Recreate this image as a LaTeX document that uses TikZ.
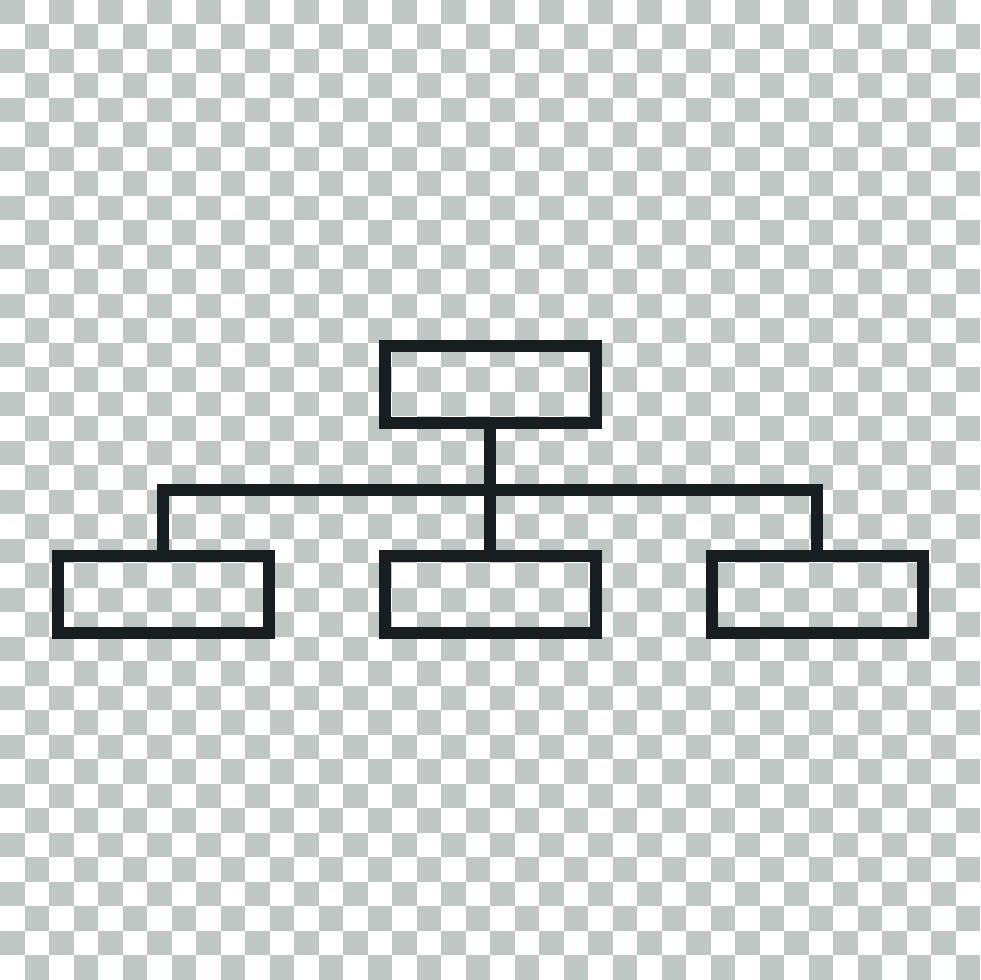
\documentclass[tikz,border=0pt]{standalone}
\usepackage{tikz}
\usepackage{xcolor}
\definecolor{checkgray}{RGB}{192,198,196}
\definecolor{inkdark}{RGB}{24,30,31}

\begin{document}
\begin{tikzpicture}[x=1pt,y=1pt]
      \tikzstyle{checker}=[fill=checkgray]
      \tikzstyle{orgbox}=[rectangle,draw=inkdark,line width=12pt,minimum width=211pt,minimum height=77pt,inner sep=0pt]
      \tikzstyle{level 1}=[sibling distance=327pt,level distance=210pt]
      \useasboundingbox (0,0) rectangle (980,980);
      \fill[white] (0,0) rectangle (980,980);
      \foreach \i in {0,...,19}
        \foreach \j in {0,...,19} {
          \fill[checker] ({49*\i+24.5},{49*\j}) rectangle +(24.5,24.5);
          \fill[checker] ({49*\i},{49*\j+24.5}) rectangle +(24.5,24.5);
        }
      \node[orgbox] (head) at (490,595) {}
        [draw=inkdark,line width=12pt,miter limit=10,
         edge from parent path={(\tikzparentnode.south) -- ++(0,-61) -| (\tikzchildnode.north)}]
        child {node[orgbox] (left) {}}
        child {node[orgbox] (middle) {}}
        child {node[orgbox] (right) {}}
    ;\end{tikzpicture}
\end{document}
